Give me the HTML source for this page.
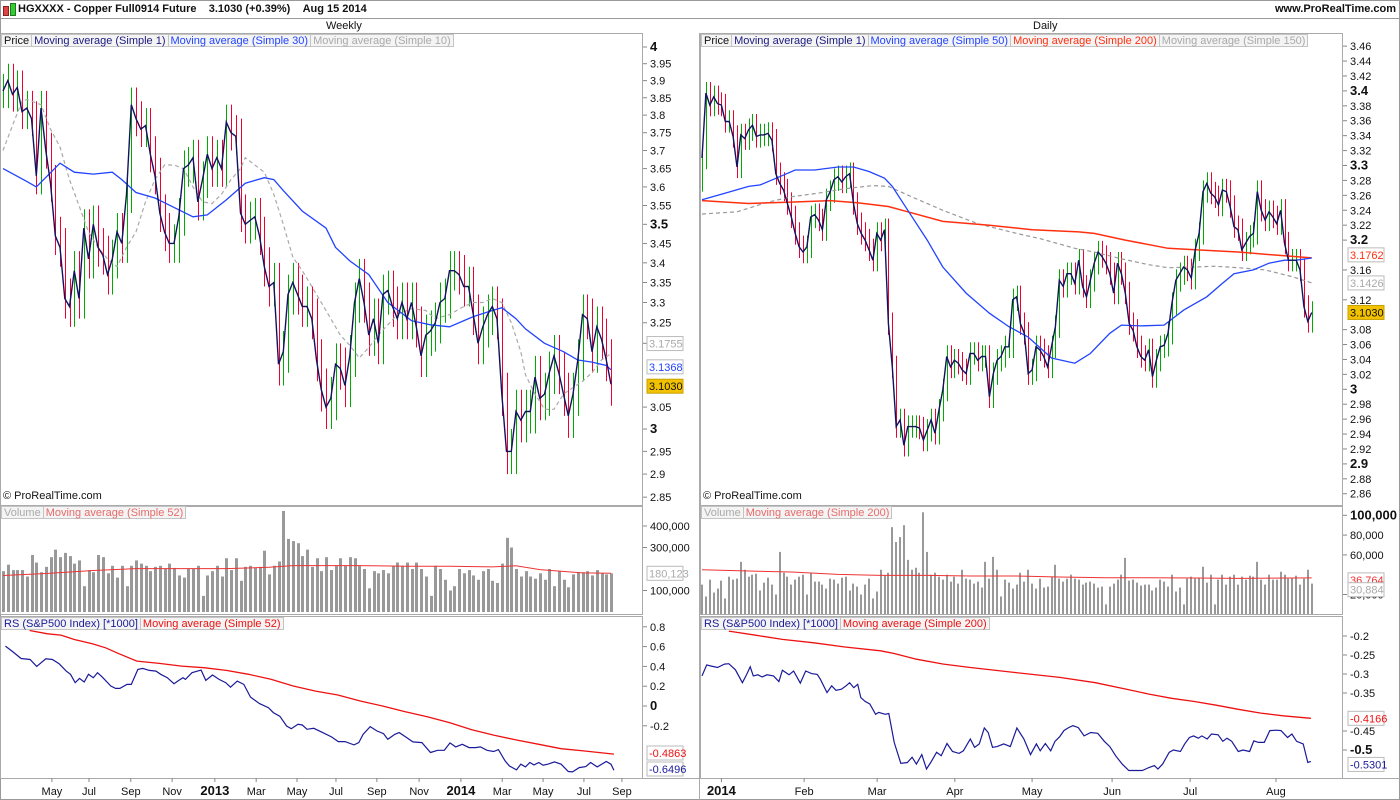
<!DOCTYPE html>
<html><head><meta charset="utf-8">
<style>
html,body{margin:0;padding:0;background:#fff;}
#wrap{position:relative;width:1400px;height:800px;overflow:hidden;font-family:"Liberation Sans",sans-serif;}
svg{position:absolute;left:0;top:0;}
.leg{position:absolute;height:13px;display:flex;font-size:11px;line-height:13px;}
.leg span{border:1px solid #c4c4c4;background:#f4f4f4;padding:0 2px;margin-right:-1px;white-space:nowrap;}
.hdr{position:absolute;font-size:11px;font-weight:bold;color:#111;}
</style></head><body>
<div id="wrap">
<svg id="svg" width="1400" height="800" viewBox="0 0 1400 800">
<defs>
<clipPath id="cWP"><rect x="1" y="34" width="641" height="471"/></clipPath>
<clipPath id="cWV"><rect x="1" y="507" width="641" height="107"/></clipPath>
<clipPath id="cWR"><rect x="1" y="617" width="641" height="161"/></clipPath>
<clipPath id="cDP"><rect x="701" y="34" width="641" height="471"/></clipPath>
<clipPath id="cDV"><rect x="701" y="507" width="641" height="107"/></clipPath>
<clipPath id="cDR"><rect x="701" y="617" width="641" height="161"/></clipPath>
</defs>
</svg>
<div class="hdr" style="left:3px;top:3px;"><span style="display:inline-block;width:4px;height:8px;background:#d44;border:1px solid #822;vertical-align:-1px"></span><span style="display:inline-block;width:4px;height:11px;background:#3c3;border:1px solid #272;margin-left:1px;vertical-align:-1px"></span></div>
<div class="hdr" style="left:18px;top:3px;">HGXXXX - Copper Full0914 Future&nbsp;&nbsp;&nbsp;&nbsp;3.1030 (+0.39%)&nbsp;&nbsp;&nbsp;&nbsp;Aug 15 2014</div>
<div class="hdr" style="left:1275px;top:3px;">www.ProRealTime.com</div>
<div class="hdr" style="left:326px;top:20px;font-weight:normal;">Weekly</div>
<div class="hdr" style="left:1033px;top:20px;font-weight:normal;">Daily</div>

<div class="leg" style="left:1px;top:34px;"><span style="color:#111">Price</span><span style="color:#1a1a80">Moving average (Simple 1)</span><span style="color:#2244ff">Moving average (Simple 30)</span><span style="color:#aaa">Moving average (Simple 10)</span></div>
<div class="leg" style="left:701px;top:34px;"><span style="color:#111">Price</span><span style="color:#1a1a80">Moving average (Simple 1)</span><span style="color:#2244ff">Moving average (Simple 50)</span><span style="color:#ff3010">Moving average (Simple 200)</span><span style="color:#aaa">Moving average (Simple 150)</span></div>
<div class="leg" style="left:1px;top:506px;"><span style="color:#aaa">Volume</span><span style="color:#e86a6a">Moving average (Simple 52)</span></div>
<div class="leg" style="left:701px;top:506px;"><span style="color:#aaa">Volume</span><span style="color:#e86a6a">Moving average (Simple 200)</span></div>
<div class="leg" style="left:1px;top:617px;"><span style="color:#1a1a99">RS (S&amp;P500 Index) [*1000]</span><span style="color:#ee1111">Moving average (Simple 52)</span></div>
<div class="leg" style="left:701px;top:617px;"><span style="color:#1a1a99">RS (S&amp;P500 Index) [*1000]</span><span style="color:#ee1111">Moving average (Simple 200)</span></div>
<div class="hdr" style="left:3px;top:490px;font-weight:normal;">© ProRealTime.com</div>
<div class="hdr" style="left:703px;top:490px;font-weight:normal;">© ProRealTime.com</div>
</div>
<script>
// ---------- WEEKLY DATA ----------
const wClose=[3.87,3.90,3.86,3.88,3.81,3.82,3.79,3.63,3.82,3.70,
3.61,3.47,3.44,3.31,3.29,3.38,3.31,3.49,3.41,3.50,
3.44,3.42,3.37,3.41,3.48,3.45,3.58,3.83,3.79,3.76,
3.77,3.69,3.63,3.53,3.48,3.45,3.45,3.52,3.65,3.66,
3.68,3.56,3.62,3.69,3.65,3.68,3.65,3.78,3.75,3.74,
3.53,3.50,3.51,3.52,3.47,3.39,3.34,3.35,3.15,3.18,
3.32,3.35,3.32,3.29,3.29,3.26,3.16,3.09,3.05,3.07,
3.15,3.14,3.10,3.17,3.30,3.36,3.30,3.22,3.26,3.20,
3.32,3.33,3.29,3.26,3.30,3.26,3.30,3.24,3.17,3.22,
3.23,3.25,3.30,3.31,3.38,3.38,3.37,3.34,3.34,3.27,
3.20,3.24,3.27,3.29,3.26,3.08,2.95,2.95,3.04,3.02,
3.04,3.04,3.12,3.07,3.08,3.13,3.17,3.13,3.08,3.03,
3.08,3.16,3.27,3.26,3.18,3.24,3.21,3.16,3.103];
const wMa30Week=[0,5,7,12,15,19,23,25,28,32,36,40,43,47,51,55,57,59,63,68,70,73,77,81,86,90,94,99,103,105,108,110,114,118,121,124,127,128];
const wMa30=[3.65,3.615,3.60,3.665,3.64,3.635,3.64,3.62,3.585,3.57,3.545,3.52,3.525,3.565,3.61,3.625,3.62,3.59,3.535,3.49,3.44,3.405,3.37,3.30,3.255,3.245,3.24,3.265,3.28,3.287,3.26,3.235,3.20,3.18,3.16,3.155,3.147,3.1368];
const wMa10Week=[0,2,4,5,8,10,12,14,16,18,20,22,24,26,28,30,32,34,36,38,40,42,44,46,48,50,51,53,55,57,59,61,63,66,69,71,73,75,77,79,81,83,86,89,91,94,97,99,101,103,105,107,109,110,112,114,116,118,120,122,124,126,128];
const wMa10=[3.70,3.77,3.84,3.845,3.83,3.76,3.71,3.62,3.55,3.48,3.44,3.41,3.39,3.44,3.48,3.56,3.62,3.66,3.66,3.65,3.60,3.56,3.555,3.58,3.62,3.65,3.68,3.66,3.64,3.58,3.50,3.415,3.38,3.32,3.26,3.22,3.195,3.165,3.19,3.22,3.245,3.27,3.285,3.28,3.26,3.27,3.29,3.30,3.30,3.31,3.30,3.25,3.18,3.125,3.08,3.045,3.045,3.08,3.095,3.11,3.13,3.16,3.1755];
const wVol=[190,220,195,195,195,165,265,230,185,210,
255,290,255,275,260,225,240,120,195,185,
265,255,180,215,160,215,120,215,240,225,
215,190,210,215,200,225,205,170,160,200,
200,215,75,170,190,215,165,250,195,250,
145,210,215,205,210,285,175,215,235,470,
340,330,320,260,290,210,250,190,255,195,
215,250,215,255,250,215,200,110,190,180,
195,180,215,230,215,230,200,230,200,165,
75,215,200,150,100,120,200,180,195,170,
150,190,200,145,135,225,345,300,200,165,
190,165,155,180,150,200,120,190,150,115,
175,185,185,190,170,195,180,175,180];
const wVolMaWeek=[0,9,19,28,38,47,56,61,75,85,94,103,108,113,122,128];
const wVolMa=[170,179,193,202,202,202,208,216,216,213,213,210,215,197,182,180];
const wRsWeek=[0.5,1.9,3.8,5.7,7.1,9,10.4,11.8,13.3,14.2,15.2,16.1,17.1,18,19,19.9,20.9,22.7,23.7,24.6,26.1,27,28.4,29.4,30.8,32.2,33.2,34.6,36,37,37.9,38.4,39.8,41.7,42.7,44.1,45.5,46.9,47.9,49.3,50.7,52.1,54,55.9,56.9,58.3,59.7,60.7,62.1,63,64,65.4,67.3,69.2,70.6,72,73.9,74.9,75.8,77.3,78.7,80.1,81,82.5,83.4,84.8,86.3,88.2,90,91.5,92.9,94.1,95.3,96.7,98.1,99.5,100.5,101.9,103.3,104.3,105.7,106.6,108.1,109,110,110.9,111.8,112.8,113.7,114.7,116.1,117.5,119,119.9,121.3,122.7,123.7,125.1,127,128,128.6];
const wRs=[0.605,0.555,0.48,0.47,0.40,0.477,0.47,0.427,0.353,0.32,0.235,0.279,0.242,0.32,0.286,0.336,0.292,0.202,0.178,0.178,0.218,0.218,0.37,0.38,0.36,0.353,0.32,0.286,0.225,0.259,0.286,0.269,0.336,0.363,0.259,0.313,0.269,0.235,0.19,0.252,0.218,0.09,0.024,-0.017,-0.067,-0.104,-0.202,-0.229,-0.185,-0.192,-0.235,-0.225,-0.269,-0.313,-0.36,-0.36,-0.393,-0.37,-0.286,-0.208,-0.252,-0.279,-0.336,-0.286,-0.269,-0.313,-0.363,-0.37,-0.47,-0.447,-0.447,-0.373,-0.413,-0.387,-0.42,-0.42,-0.413,-0.447,-0.46,-0.44,-0.555,-0.605,-0.645,-0.588,-0.615,-0.571,-0.595,-0.571,-0.598,-0.588,-0.565,-0.588,-0.662,-0.666,-0.622,-0.612,-0.571,-0.615,-0.561,-0.588,-0.6496];
const wRsMaWeek=[5.6,9.4,12.2,15,18.8,21.6,24.4,28.2,32.9,37.6,42.3,47,51.7,56.4,61.1,65.8,70.5,75.2,79.9,84.6,89.3,94,98.7,103.4,108.1,112.8,117.5,122.2,128.6];
const wRsMa=[0.763,0.729,0.716,0.672,0.629,0.588,0.528,0.454,0.43,0.403,0.387,0.36,0.32,0.27,0.202,0.151,0.111,0.05,0,-0.057,-0.108,-0.168,-0.239,-0.296,-0.343,-0.387,-0.431,-0.454,-0.4863];
const wPriceTicks=[4,3.95,3.9,3.85,3.8,3.75,3.7,3.65,3.6,3.55,3.5,3.45,3.4,3.35,3.3,3.25,3.2,3.05,3,2.95,2.9,2.85];
const wVolTicks=[400,300,100];
const wRsTicks=[0.8,0.6,0.4,0.2,0,-0.2];
const wMonthLabels=["May","Jul","Sep","Nov","2013","Mar","May","Jul","Sep","Nov","2014","Mar","May","Jul","Sep"];
const wMonthWeek=[10.3,18.1,26.9,35.6,44.6,53.3,61.9,70.1,78.7,87.6,96.4,105.1,113.7,122.3,130.3];

// ---------- DAILY DATA ----------
const dClose=[3.310,3.397,3.381,3.392,3.383,3.381,3.359,3.359,3.339,3.298,
3.341,3.336,3.348,3.354,3.339,3.341,3.341,3.343,3.334,3.289,
3.276,3.267,3.249,3.231,3.209,3.191,3.184,3.191,3.231,3.234,
3.227,3.214,3.254,3.265,3.281,3.285,3.278,3.285,3.289,3.249,
3.222,3.209,3.200,3.187,3.173,3.209,3.200,3.214,3.088,3.030,
2.950,2.959,2.925,2.950,2.950,2.950,2.948,2.932,2.945,2.959,
2.941,2.972,2.999,3.044,3.030,3.039,3.035,3.026,3.021,3.048,
3.048,3.039,3.044,3.044,2.990,3.021,3.039,3.044,3.057,3.057,
3.120,3.124,3.088,3.075,3.021,3.026,3.057,3.053,3.044,3.030,
3.057,3.084,3.146,3.138,3.155,3.155,3.142,3.173,3.138,3.124,
3.146,3.169,3.184,3.178,3.169,3.155,3.129,3.169,3.155,3.129,
3.088,3.079,3.057,3.044,3.039,3.053,3.017,3.039,3.057,3.059,
3.075,3.115,3.146,3.155,3.164,3.160,3.149,3.187,3.209,3.265,
3.276,3.263,3.258,3.247,3.267,3.265,3.245,3.218,3.214,3.187,
3.196,3.205,3.209,3.265,3.240,3.227,3.238,3.231,3.222,3.240,
3.196,3.173,3.173,3.173,3.160,3.111,3.091,3.103];
const dMa50Day=[0,6,12,15,20,24,29,35,39,43,47,49,53,58,62,68,74,79,84,90,96,100,105,108,113,119,124,130,134,137,142,146,150,153,157];
const dMa50=[3.254,3.263,3.272,3.274,3.285,3.294,3.294,3.298,3.298,3.292,3.283,3.272,3.240,3.200,3.164,3.129,3.102,3.084,3.070,3.042,3.035,3.048,3.075,3.086,3.085,3.086,3.106,3.124,3.142,3.155,3.160,3.169,3.173,3.173,3.176];
const dMa200Day=[0,12,23,33,40,48,53,62,74,85,97,101,109,120,127,138,150,157];
const dMa200=[3.253,3.249,3.251,3.253,3.250,3.245,3.238,3.225,3.220,3.214,3.211,3.209,3.200,3.189,3.187,3.184,3.179,3.1762];
const dMa150Day=[0,9,17,23,30,37,44,48,54,62,71,81,87,96,101,108,115,120,127,132,138,145,152,157];
const dMa150=[3.235,3.238,3.251,3.258,3.263,3.269,3.273,3.272,3.258,3.240,3.222,3.209,3.202,3.189,3.184,3.175,3.167,3.163,3.164,3.165,3.163,3.160,3.151,3.1426];
const dVol=[30,18,35,22,26,34,16,38,35,36,
53,45,38,40,41,24,32,37,30,20,
63,42,38,30,35,38,40,20,42,33,
33,30,26,36,35,31,37,38,24,31,
28,20,30,36,16,23,45,39,42,88,
73,78,90,55,45,47,42,103,63,40,
42,38,35,40,33,38,31,45,36,35,
31,33,27,53,36,58,45,18,35,32,
26,30,42,33,45,31,26,36,27,28,
38,50,36,33,36,40,36,35,30,32,
33,31,27,28,10,28,31,35,40,57,
34,35,32,29,30,30,24,27,35,33,
28,40,23,27,10,36,38,36,37,48,
32,40,10,35,40,30,38,40,30,38,
35,39,38,53,35,30,40,35,35,43,
40,36,37,39,30,36,45,31];
const dVolMaDay=[0,12,23,35,46,58,69,81,92,104,115,127,138,157];
const dVolMa=[45,43.7,42.7,40.3,39.3,39.3,38.7,38.7,37.7,37,37,36.7,36.3,36.8];
const dRsDay=[0,1.2,2.3,4,5.8,6.9,8.6,10.4,11.5,12.4,13.2,14.4,15.5,16.7,18.4,19.8,20.7,22.4,23.6,25.3,26.7,28.2,29.7,30.5,32.2,33.4,34.5,35.9,37.1,38,39.1,40.1,40.9,42,43.2,44.7,45.5,47.2,48.1,49.5,51.2,52.9,54.1,55.2,56.6,57.8,58.9,60.4,61.6,63.1,64.5,66.2,67.3,69.1,70.2,71.4,72.7,73.7,74.8,76,77.7,79.4,81.1,82.9,84.6,86.1,87.1,88.4,89.8,90.9,92.1,93.2,94.4,95.5,96.9,98.4,100.1,101.9,103.6,105,106.5,108.2,109.9,111.6,113.4,115.1,116.5,117.4,118.6,120.3,121.4,123.2,124.3,125.5,126.6,127.8,128.7,130.1,131.2,132.9,134.1,135.2,136.4,138.1,139.3,141,142.1,143.3,144.8,146.2,147.9,149.1,150.8,151.9,153.1,154.8,156,156.8];
const dRs=[-0.305,-0.276,-0.279,-0.283,-0.274,-0.273,-0.289,-0.323,-0.301,-0.281,-0.305,-0.302,-0.308,-0.302,-0.305,-0.320,-0.290,-0.302,-0.292,-0.324,-0.292,-0.299,-0.301,-0.314,-0.349,-0.331,-0.343,-0.340,-0.331,-0.323,-0.336,-0.327,-0.362,-0.372,-0.379,-0.406,-0.401,-0.406,-0.404,-0.480,-0.535,-0.533,-0.519,-0.537,-0.512,-0.550,-0.533,-0.506,-0.515,-0.483,-0.504,-0.509,-0.502,-0.471,-0.493,-0.484,-0.442,-0.454,-0.493,-0.491,-0.484,-0.491,-0.442,-0.471,-0.512,-0.484,-0.502,-0.483,-0.502,-0.477,-0.465,-0.449,-0.441,-0.436,-0.441,-0.463,-0.454,-0.456,-0.477,-0.491,-0.515,-0.537,-0.554,-0.554,-0.554,-0.546,-0.541,-0.550,-0.537,-0.506,-0.500,-0.504,-0.484,-0.467,-0.463,-0.469,-0.463,-0.471,-0.458,-0.460,-0.477,-0.469,-0.477,-0.504,-0.500,-0.504,-0.476,-0.480,-0.480,-0.449,-0.448,-0.449,-0.467,-0.458,-0.477,-0.484,-0.533,-0.5301];
const dRsMaDay=[6.9,13.8,20.7,28.8,36.8,46,49.5,55.2,62.2,69.1,80.6,92.1,101.3,109.3,115.1,120.9,126.6,132.4,138.1,143.9,149.6,156.8];
const dRsMa=[-0.187,-0.198,-0.209,-0.218,-0.229,-0.239,-0.246,-0.261,-0.274,-0.283,-0.296,-0.309,-0.323,-0.340,-0.353,-0.364,-0.372,-0.382,-0.393,-0.403,-0.410,-0.4166];
const dPriceTicks=[3.46,3.44,3.42,3.4,3.38,3.36,3.34,3.32,3.3,3.28,3.26,3.24,3.22,3.2,3.16,3.12,3.08,3.06,3.04,3.02,3,2.98,2.96,2.94,2.92,2.9,2.88,2.86];
const dVolTicks=[100,80,60,20];
const dRsTicks=[-0.2,-0.25,-0.3,-0.35,-0.45,-0.5];
const dMonthLabels=["2014","Feb","Mar","Apr","May","Jun","Jul","Aug"];
const dMonthDay=[5,26.3,45.1,65.1,85,105.6,125.7,147.8];

// ---------- SCALES ----------
const xW=i=>3+i*(608/(wClose.length-1));
const yWP=p=>47+(Math.log(4)-Math.log(p))*1328;
const yWV=v=>612-v*0.215;
const yWR=v=>706-v*99;
const xD=i=>702+i*(609.7/(dClose.length-1));
const yDP=p=>389.3-(p-3)*746;
const yDV=v=>614.3-v*0.99;
const yDR=v=>636+(-0.2-v)*380;

const NS="http://www.w3.org/2000/svg";
const svg=document.getElementById('svg');
function mk(tag,attrs,parent){const e=document.createElementNS(NS,tag);for(const k in attrs)e.setAttribute(k,attrs[k]);(parent||svg).appendChild(e);return e;}
function grp(clip){const g=mk('g',clip?{'clip-path':'url(#'+clip+')'}:{});return g;}
function poly(g,xs,ys,stroke,w,dash){let d='';for(let i=0;i<xs.length;i++)d+=(i?'L':'M')+xs[i].toFixed(1)+' '+ys[i].toFixed(1);return mk('path',{d:d,fill:'none',stroke:stroke,'stroke-width':w,'stroke-dasharray':dash||'none'},g);}

// frame
const frame=grp();


mk('rect',{x:0.5,y:0.5,width:1399,height:799,fill:'none',stroke:'#999'},frame);
mk('line',{x1:0,y1:18.5,x2:1400,y2:18.5,stroke:'#999'},frame);
[[0.5,33.5,642,472],[0.5,506.5,642,108],[0.5,616.5,642,162],[700.5,33.5,642,472],[700.5,506.5,642,108],[700.5,616.5,642,162]].forEach(r=>mk('rect',{x:r[0],y:r[1],width:r[2],height:r[3],fill:'none',stroke:'#aaa'},frame));
mk('line',{x1:699.5,y1:33,x2:699.5,y2:800,stroke:'#aaa'},frame);
mk('line',{x1:0,y1:778.5,x2:1400,y2:778.5,stroke:'#aaa'},frame);

function axisLabels(g,ticks,yf,x0,fmt,boldSet){ticks.forEach(t=>{const y=yf(t);mk('line',{x1:x0,y1:y,x2:x0+4,y2:y,stroke:'#888'},g);const tx=mk('text',{x:x0+7,y:y+4,'font-size':(boldSet.includes(t)?13:11),'font-weight':boldSet.includes(t)?'bold':'normal',fill:'#111','font-family':'Liberation Sans, sans-serif'},g);tx.textContent=fmt(t);});}
function tag(g,x,y,text,color,bg,border){mk('rect',{x:x,y:y-7,width:36,height:14,fill:bg,stroke:border},g);const t=mk('text',{x:x+2,y:y+4,'font-size':11,fill:color,'font-family':'Liberation Sans, sans-serif'},g);t.textContent=text;}
const fmtK=v=>(v*1000).toLocaleString('en-US');

// ---------- WEEKLY PRICE ----------
const gWP=grp('cWP');


const wExt=0.05;
wClose.forEach((c,i)=>{const o=i?wClose[i-1]:c;const hi=Math.max(o,c)+wExt,lo=Math.min(o,c)-wExt;const x=Math.round(xW(i))+0.5;
 const ln=mk('line',{x1:x,y1:yWP(hi),x2:x,y2:yWP(lo),stroke:c>=o?'#00aa00':'#ee0033','stroke-width':1},gWP);
 
 });
const wm10=poly(gWP,wMa10Week.map(xW),wMa10.map(yWP),'#aaaaaa',1.2,'4,3');


const wm30=poly(gWP,wMa30Week.map(xW),wMa30.map(yWP),'#2244ff',1.3);


const wcl=poly(gWP,wClose.map((c,i)=>xW(i)),wClose.map(yWP),'#12125e',1.4);


const gWPA=grp();


axisLabels(gWPA,wPriceTicks,yWP,643,t=>String(t),[4,3.5,3]);
tag(gWPA,647,yWP(3.1755)-10,'3.1755','#aaa','#fff','#bbb');
tag(gWPA,647,yWP(3.1368)-3,'3.1368','#2244ff','#fff','#bbb');
tag(gWPA,647,yWP(3.103)+2,'3.1030','#111','#f2c200','#c9a000');

// ---------- WEEKLY VOLUME ----------
const gWV=grp('cWV');


wVol.forEach((v,i)=>{const x=Math.round(xW(i));const r=mk('rect',{x:x-1,y:yWV(v),width:3,height:612-yWV(v),fill:'#999'},gWV);
 
 });
const wvm=poly(gWV,wVolMaWeek.map(xW),wVolMa.map(yWV),'#ee3333',1);


const gWVA=grp();


axisLabels(gWVA,wVolTicks,yWV,643,fmtK,[]);
tag(gWVA,647,yWV(180),'180,123','#aaa','#fff','#bbb');

// ---------- WEEKLY RS ----------
const gWR=grp('cWR');


const wrm=poly(gWR,wRsMaWeek.map(xW),wRsMa.map(yWR),'#ee1111',1.3);


const wrl=poly(gWR,wRsWeek.map(xW),wRs.map(yWR),'#1a1a99',1.2);


const gWRA=grp();


axisLabels(gWRA,wRsTicks,yWR,643,t=>String(t),[0]);
tag(gWRA,647,753,'-0.4863','#ee1111','#fff','#bbb');
tag(gWRA,647,769,'-0.6496','#1a1a99','#fff','#bbb');

// ---------- WEEKLY X AXIS ----------
const gWX=grp();


wMonthLabels.forEach((m,i)=>{const x=xW(wMonthWeek[i]);mk('line',{x1:x,y1:778,x2:x,y2:782,stroke:'#888'},gWX);const t=mk('text',{x:x,y:795,'text-anchor':'middle','font-size':/^\d/.test(m)?13:11,'font-weight':/^\d/.test(m)?'bold':'normal',fill:'#111','font-family':'Liberation Sans, sans-serif'},gWX);t.textContent=m;});

// ---------- DAILY PRICE ----------
const gDP=grp('cDP');


const dExt=0.015;
dClose.forEach((c,i)=>{const o=i?dClose[i-1]:c-0.03;const hi=Math.max(o,c)+dExt,lo=Math.min(o,c)-dExt;const x=Math.round(xD(i))+0.5;
 const ln=mk('line',{x1:x,y1:yDP(hi),x2:x,y2:yDP(lo),stroke:c>=o?'#00aa00':'#ee0033','stroke-width':1},gDP);
 
 });
const dm150=poly(gDP,dMa150Day.map(xD),dMa150.map(yDP),'#999999',1.2,'4,3');


const dm200=poly(gDP,dMa200Day.map(xD),dMa200.map(yDP),'#ff3010',1.5);


const dm50=poly(gDP,dMa50Day.map(xD),dMa50.map(yDP),'#2244ff',1.3);


const dcl=poly(gDP,dClose.map((c,i)=>xD(i)),dClose.map(yDP),'#12125e',1.4);


const gDPA=grp();


axisLabels(gDPA,dPriceTicks,yDP,1343,t=>String(t),[3.4,3.3,3.2,3,2.9]);
tag(gDPA,1348,yDP(3.1762)-3,'3.1762','#ff3010','#fff','#bbb');
tag(gDPA,1348,yDP(3.1426),'3.1426','#aaa','#fff','#bbb');
tag(gDPA,1348,yDP(3.103),'3.1030','#111','#f2c200','#c9a000');

// ---------- DAILY VOLUME ----------
const gDV=grp('cDV');


dVol.forEach((v,i)=>{const x=Math.round(xD(i));const r=mk('rect',{x:x-1,y:yDV(v),width:2,height:614.3-yDV(v),fill:'#999'},gDV);
 
 });
const dvm=poly(gDV,dVolMaDay.map(xD),dVolMa.map(yDV),'#ee3333',1);


const gDVA=grp();


axisLabels(gDVA,dVolTicks,yDV,1343,fmtK,[100]);
tag(gDVA,1348,yDV(36.8)+2,'36,764','#ee3333','#fff','#bbb');
tag(gDVA,1348,yDV(30.9)+6,'30,884','#aaa','#fff','#bbb');

// ---------- DAILY RS ----------
const gDR=grp('cDR');


const drm=poly(gDR,dRsMaDay.map(xD),dRsMa.map(yDR),'#ee1111',1.3);


const drl=poly(gDR,dRsDay.map(xD),dRs.map(yDR),'#1a1a99',1.2);


const gDRA=grp();


axisLabels(gDRA,dRsTicks,yDR,1343,t=>String(t),[-0.5]);
tag(gDRA,1348,yDR(-0.4166),'-0.4166','#ee1111','#fff','#bbb');
tag(gDRA,1348,yDR(-0.5301)+3,'-0.5301','#1a1a99','#fff','#bbb');

// ---------- DAILY X AXIS ----------
const gDX=grp();


dMonthLabels.forEach((m,i)=>{const x=xD(dMonthDay[i]);mk('line',{x1:x,y1:778,x2:x,y2:782,stroke:'#888'},gDX);const t=mk('text',{x:x,y:795,'text-anchor':'middle','font-size':/^\d/.test(m)?13:11,'font-weight':/^\d/.test(m)?'bold':'normal',fill:'#111','font-family':'Liberation Sans, sans-serif'},gDX);t.textContent=m;});
</script>
</body></html>
